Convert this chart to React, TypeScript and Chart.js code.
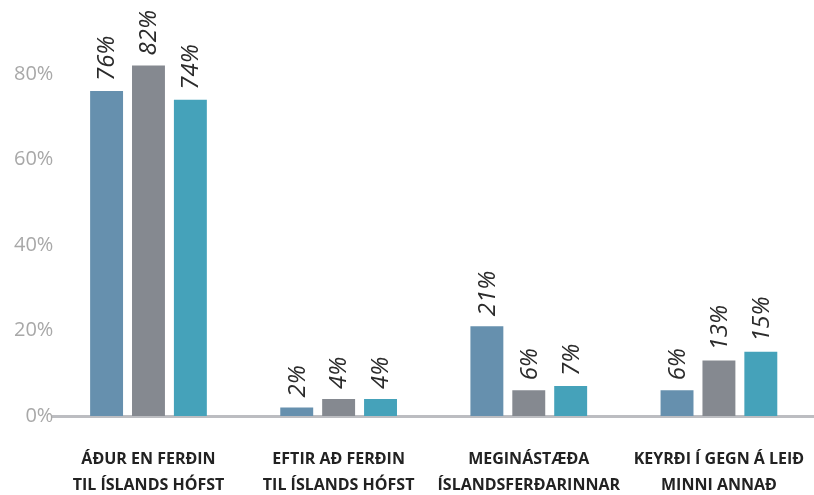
import React, { useEffect, useRef } from "react";
import { Chart, registerables } from "chart.js";

Chart.register(...registerables);

const categories: string[][] = [
  ["ÁÐUR EN FERÐIN", "TIL ÍSLANDS HÓFST"],
  ["EFTIR AÐ FERÐIN", "TIL ÍSLANDS HÓFST"],
  ["MEGINÁSTÆÐA", "ÍSLANDSFERÐARINNAR"],
  ["KEYRÐI Í GEGN Á LEIÐ", "MINNI ANNAÐ"],
];
const series1: number[] = [76, 2, 21, 6];
const series2: number[] = [82, 4, 6, 13];
const series3: number[] = [74, 4, 7, 15];
const yTicks: number[] = [0, 20, 40, 60, 80];

const valueLabels = {
  id: "valueLabels",
  afterDatasetsDraw(chart: any) {
    const ctx = chart.ctx;
    ctx.save();
    ctx.fillStyle = "#2b2b2b";
    ctx.font = "italic 400 24px 'Open Sans'";
    ctx.textAlign = "left";
    ctx.textBaseline = "middle";
    chart.data.datasets.forEach((ds: any, di: number) => {
      const meta = chart.getDatasetMeta(di);
      meta.data.forEach((el: any, i: number) => {
        ctx.save();
        ctx.translate(el.x + 1, el.y - 10);
        ctx.rotate(-Math.PI / 2);
        ctx.fillText(ds.data[i] + "%", 0, 0);
        ctx.restore();
      });
    });
    ctx.restore();
  },
};

export default function App() {
  const ref = useRef<HTMLCanvasElement>(null);
  useEffect(() => {
    document.body.style.margin = "0";
    const chart = new Chart(ref.current!, {
      type: "bar",
      data: {
        labels: categories,
        datasets: [
          { data: series1, backgroundColor: "#6690ae" },
          { data: series2, backgroundColor: "#858990" },
          { data: series3, backgroundColor: "#45a2ba" },
        ],
      },
      options: {
        animation: false,
        responsive: false,
        maintainAspectRatio: false,
        layout: { padding: { left: 14, top: 0, right: 0, bottom: 0 } },
        datasets: {
          bar: { categoryPercentage: 0.661, barPercentage: 0.786 },
        },
        plugins: {
          legend: { display: false },
          tooltip: { enabled: false },
        },
        scales: {
          x: {
            grid: { display: false, drawTicks: false },
            border: { display: true, color: "#bcbdc1", width: 3 },
            afterFit: (scale: any) => {
              scale.height = 79;
              scale.paddingLeft = 0;
              scale.paddingRight = 0;
            },
            ticks: {
              color: "#222222",
              font: { family: "'Open Sans'", size: 16, weight: "bold", lineHeight: 1.65 },
              padding: 30,
              maxRotation: 0,
              autoSkip: false,
            },
          },
          y: {
            min: 0,
            max: 94.5,
            grid: { display: false, drawTicks: false },
            border: { display: false },
            afterBuildTicks: (scale: any) => {
              scale.ticks = yTicks.map((v) => ({ value: v }));
            },
            ticks: {
              color: "#a8a8a8",
              font: { family: "'Open Sans'", size: 20 },
              padding: 0,
              callback: (v: any) => v + "%",
            },
          },
        },
      },
      plugins: [valueLabels],
    });
    return () => chart.destroy();
  }, []);
  return (
    <div style={{ width: 814, height: 495 }}>
      <canvas ref={ref} width={814} height={495} style={{ display: "block" }} />
    </div>
  );
}
